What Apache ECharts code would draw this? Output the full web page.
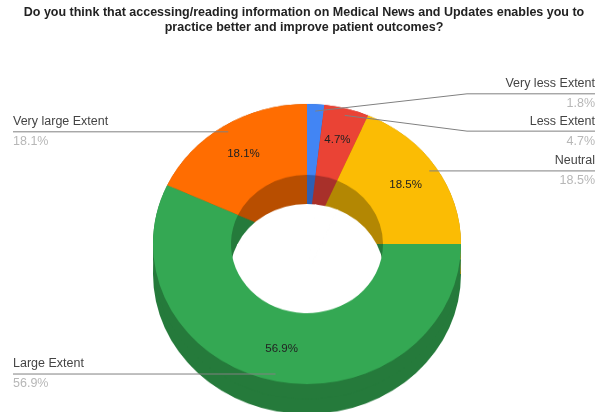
<!DOCTYPE html>
<html>
<head>
<meta charset="utf-8">
<script src="https://cdn.jsdelivr.net/npm/echarts@6/dist/echarts.min.js"></script>
<style>
  html, body { margin: 0; padding: 0; background: #fff; overflow: hidden; }
  /* the donut is drawn round, then squashed to look tilted */
  #shape { position: absolute; left: 0; top: 0; width: 608px; height: 470px; transform: scaleY(0.91); transform-origin: 0 244px; }
  #text { position: absolute; left: 0; top: 0; width: 608px; height: 412px; }
</style>
</head>
<body>
<div id="shape"></div>
<div id="text"></div>
<script>
const categories = ['Very less Extent', 'Less Extent', 'Neutral', 'Large Extent', 'Very large Extent'];
const percents = [1.8, 4.7, 18.5, 56.9, 18.1];
const titleLines = [
  'Do you think that accessing/reading information on Medical News and Updates enables you to',
  'practice better and improve patient outcomes?'
];

const topColors = ['#4285f4', '#ea4335', '#fbbc04', '#34a853', '#ff6d01'];
const sideColors = ['#2e5fb3', '#a8302a', '#b38703', '#257a3b', '#b84e00'];
const FONT = 'Liberation Sans, Arial, sans-serif';

const CX = 307, CY = 244, R = 154, R_IN = 76, DEPTH = 33, TILT = 0.91;

function squash(y) {
  return CY + (y - CY) * TILT;
}

// ---- shapes (scaled by css) ----
const shape = echarts.init(document.getElementById('shape'));

function layer(center, radius, colors, border) {
  return {
    type: 'pie',
    center: center,
    radius: radius,
    startAngle: 90,
    clockwise: true,
    silent: true,
    avoidLabelOverlap: false,
    label: { show: false },
    labelLine: { show: false },
    emphasis: { disabled: true },
    itemStyle: { borderWidth: border ? 2 : 0, borderColor: '#fff', borderRadius: 0 },
    data: categories.map((name, i) => ({
      name: name,
      value: percents[i],
      itemStyle: { color: colors[i] }
    }))
  };
}

const white = categories.map(() => '#fff');

shape.setOption({
  animation: false,
  series: [
    layer([CX, CY + DEPTH], [0, R], sideColors),
    layer([CX, CY + DEPTH / 2], [0, R], sideColors),
    layer([CX, CY], [0, R], sideColors),
    layer([CX, CY + DEPTH], [0, R_IN], white, true),
    layer([CX, CY], [R_IN, R], topColors)
  ]
});

// ---- texts (not scaled) ----
const text = echarts.init(document.getElementById('text'));

function outerLayout(p) {
  const pts = p.labelLinePoints;
  const r = p.labelRect;
  const mid = r.y + r.height / 2;
  if (!pts) return { dy: squash(mid) - mid };
  const side = pts[2][0] > pts[0][0] ? 1 : -1;
  return {
    dy: squash(mid) - mid,
    labelLinePoints: [
      [pts[0][0], squash(pts[0][1])],
      [CX + side * (R + 6), squash(mid)],
      [side > 0 ? r.x + r.width : r.x, squash(mid)]
    ]
  };
}

function innerLayout(p) {
  const r = p.labelRect;
  const mid = r.y + r.height / 2;
  return { dy: squash(mid) - mid };
}

text.setOption({
  animation: false,
  backgroundColor: 'transparent',
  title: {
    text: titleLines.join('\n'),
    left: 'center',
    top: 0,
    textStyle: { fontFamily: FONT, fontSize: 12.5, fontWeight: 'bold', color: '#222', lineHeight: 15 }
  },
  series: [
    {
      type: 'pie',
      center: [CX, CY],
      radius: [0, R * 0.95],
      startAngle: 90,
      silent: true,
      emphasis: { disabled: true },
      itemStyle: { color: 'transparent', borderWidth: 0 },
      label: {
        position: 'outside',
        alignTo: 'edge',
        edgeDistance: 13,
        minMargin: 8,
        formatter: p => '{n|' + p.name + '}\n{p|' + p.value.toFixed(1) + '%}',
        rich: {
          n: { fontFamily: FONT, fontSize: 12.5, color: '#444', lineHeight: 18, padding: [0, 0, 2, 0] },
          p: { fontFamily: FONT, fontSize: 12.5, color: '#b7b7b7', lineHeight: 18, padding: [2, 0, 0, 0] }
        }
      },
      labelLine: { show: true, length: 0, length2: 0, lineStyle: { color: '#808080', width: 1 } },
      labelLayout: outerLayout,
      data: categories.map((name, i) => ({
        name: name,
        value: percents[i],
        // lift the first small slice's label so the two small ones share the space
        labelLine: i === 0 ? { length: 19 } : undefined
      }))
    },
    {
      type: 'pie',
      center: [CX, CY],
      radius: [R_IN, R],
      startAngle: 90,
      silent: true,
      emphasis: { disabled: true },
      itemStyle: { color: 'transparent', borderWidth: 0 },
      label: {
        position: 'inside',
        fontFamily: FONT,
        fontSize: 11.5,
        color: '#222',
        formatter: p => p.value.toFixed(1) + '%'
      },
      labelLine: { show: false },
      labelLayout: innerLayout,
      data: categories.map((name, i) => ({
        name: name,
        value: percents[i],
        label: { show: percents[i] >= 3 }
      }))
    }
  ]
});
</script>
</body>
</html>
